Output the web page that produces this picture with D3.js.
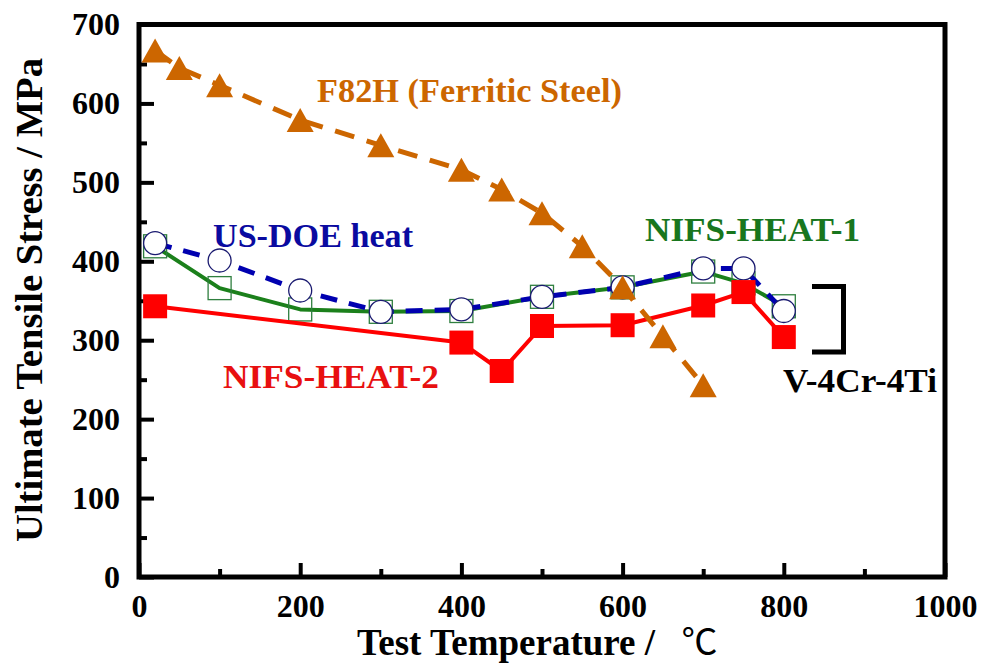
<!DOCTYPE html>
<html>
<head>
<meta charset="utf-8">
<script src="https://cdn.jsdelivr.net/npm/d3@7/dist/d3.min.js"></script>
<style>
  html, body { margin: 0; padding: 0; background: #fff; }
  svg { display: block; }
  text { font-family: "Liberation Serif", "DejaVu Serif", serif; }
</style>
</head>
<body>
<svg id="chart" width="985" height="664"></svg>
<script>
// ---------------- DATA ----------------
const f82hTemp   = [20, 50, 100, 200, 300, 400, 450, 500, 550, 600, 650, 700];
const f82hUTS    = [667, 645, 623, 579, 547, 516, 491, 461, 419, 367, 305, 243];

const usdoeTemp  = [20, 100, 200, 300, 400, 500, 600, 700, 750, 800];
const usdoeUTS   = [423, 401, 363, 336, 339, 355, 367, 391, 391, 337];

const heat1Temp  = [20, 100, 200, 300, 400, 500, 600, 700, 750, 800];
const heat1UTS   = [419, 366, 339, 336, 337, 355, 367, 387, 372, 343];

const heat2Temp  = [20, 400, 450, 500, 600, 700, 750, 800];
const heat2UTS   = [343, 297, 261, 318, 319, 344, 361, 304];

const xMajorTicks = [0, 200, 400, 600, 800, 1000];
const xMinorTicks = [100, 300, 500, 700, 900];
const yMajorTicks = [0, 100, 200, 300, 400, 500, 600, 700];
const yMinorTicks = [50, 150, 250, 350, 450, 550, 650];

const xTitle = "Test Temperature /  ";
const xUnit = "\u2103";
const yTitle = "Ultimate Tensile Stress / MPa";

// ---------------- SETUP ----------------
const svg = d3.select("#chart");
const L = 139, R = 945, T = 24.5, B = 577;
const x = d3.scaleLinear().domain([0, 1000]).range([L, R]);
const y = d3.scaleLinear().domain([0, 700]).range([B, T]);

const serif = "Liberation Serif, DejaVu Serif, serif";
const C_OR = "#cc6600", C_BL = "#0000b0", C_GR = "#1b801b", C_RD = "#ff0000";

// ---------------- AXES ----------------
function styleAxis(g) {
  g.attr("font-family", null).attr("font-size", null);
  g.select(".domain").remove();
  g.selectAll(".tick line").attr("stroke", "#000").attr("stroke-width", 4);
  g.selectAll(".tick text")
    .style("font-family", serif).attr("font-weight", "bold")
    .attr("font-size", 32).attr("fill", "#000");
}
svg.append("g").attr("transform", `translate(${L},0)`)
  .call(d3.axisLeft(y).tickValues(yMajorTicks).tickSize(-15).tickPadding(19).tickFormat(d3.format("d")))
  .call(styleAxis);
svg.append("g").attr("transform", `translate(${L},0)`)
  .call(d3.axisLeft(y).tickValues(yMinorTicks).tickSize(-8).tickFormat(""))
  .call(styleAxis);
svg.append("g").attr("transform", `translate(0,${B})`)
  .call(d3.axisBottom(x).tickValues(xMajorTicks).tickSize(-14).tickPadding(17).tickFormat(d3.format("d")))
  .call(styleAxis);
svg.append("g").attr("transform", `translate(0,${B})`)
  .call(d3.axisBottom(x).tickValues(xMinorTicks).tickSize(-8).tickFormat(""))
  .call(styleAxis);

// frame
svg.append("rect")
  .attr("x", x(0)).attr("y", y(700))
  .attr("width", x(1000) - x(0)).attr("height", y(0) - y(700))
  .attr("fill", "none").attr("stroke", "#000").attr("stroke-width", 5);

// axis titles
svg.append("text")
  .attr("transform", `translate(42,300) rotate(-90)`)
  .attr("text-anchor", "middle")
  .style("font-family", serif).attr("font-weight", "bold").attr("font-size", 38)
  .attr("textLength", 484).attr("lengthAdjust", "spacingAndGlyphs")
  .text(yTitle);

const xt = svg.append("text")
  .attr("x", 357).attr("y", 655)
  .style("font-family", serif).attr("font-weight", "bold").attr("font-size", 37)
  .style("white-space", "pre");
xt.append("tspan").text(xTitle);
xt.append("tspan").attr("dx", 8)
  .style("font-family", "'Noto Sans CJK JP', 'DejaVu Sans', sans-serif")
  .attr("font-weight", "normal").attr("font-size", 36).text(xUnit);

// ---------------- SERIES ----------------
const line = d3.line().x(d => x(d[0])).y(d => y(d[1]));
const zip = (a, b) => a.map((v, i) => [v, b[i]]);

const heat1 = zip(heat1Temp, heat1UTS);
const usdoe = zip(usdoeTemp, usdoeUTS);
const heat2 = zip(heat2Temp, heat2UTS);
const f82h  = zip(f82hTemp, f82hUTS);

// NIFS-HEAT-1 (green solid, open squares)
svg.append("path").datum(heat1).attr("d", line)
  .attr("fill", "none").attr("stroke", C_GR).attr("stroke-width", 4).attr("stroke-linejoin", "round");
const sq1 = 23;
svg.append("g").selectAll("rect").data(heat1).join("rect")
  .attr("x", d => x(d[0]) - sq1 / 2).attr("y", d => y(d[1]) - sq1 / 2)
  .attr("width", sq1).attr("height", sq1)
  .attr("fill", "none").attr("stroke", "#2f7f3f").attr("stroke-width", 1.3);

// US-DOE heat (blue dashed, open circles)
svg.append("path").datum(usdoe).attr("d", line)
  .attr("fill", "none").attr("stroke", C_BL).attr("stroke-width", 5)
  .attr("stroke-dasharray", "17,12");
svg.append("g").selectAll("circle").data(usdoe).join("circle")
  .attr("cx", d => x(d[0])).attr("cy", d => y(d[1])).attr("r", 11.5)
  .attr("fill", "#fff").attr("stroke", "#1a1a70").attr("stroke-width", 1.3);

// NIFS-HEAT-2 (red solid, filled squares)
svg.append("path").datum(heat2).attr("d", line)
  .attr("fill", "none").attr("stroke", C_RD).attr("stroke-width", 4).attr("stroke-linejoin", "round");
const sq2 = 24;
svg.append("g").selectAll("rect").data(heat2).join("rect")
  .attr("x", d => x(d[0]) - sq2 / 2).attr("y", d => y(d[1]) - sq2 / 2)
  .attr("width", sq2).attr("height", sq2).attr("fill", C_RD);

// F82H (orange dashed, filled triangles)
svg.append("path").datum(f82h).attr("d", line)
  .attr("fill", "none").attr("stroke", C_OR).attr("stroke-width", 5)
  .attr("stroke-dasharray", "20,13");
const tw = 27, th = 24;
svg.append("g").selectAll("path").data(f82h).join("path")
  .attr("d", d => {
    const cx = x(d[0]), cy = y(d[1]);
    return `M${cx},${cy - th / 2}L${cx + tw / 2},${cy + th / 2}L${cx - tw / 2},${cy + th / 2}Z`;
  })
  .attr("fill", C_OR);

// ---------------- ANNOTATIONS ----------------
function label(txt, x0, base, width, color) {
  svg.append("text").attr("x", x0).attr("y", base)
    .style("font-family", serif).attr("font-weight", "bold").attr("font-size", 34)
    .attr("fill", color).attr("textLength", width).attr("lengthAdjust", "spacingAndGlyphs")
    .text(txt);
}
label("F82H (Ferritic Steel)", 317, 102, 305, C_OR);
label("US-DOE heat", 213, 247, 200, "#0a0aa0");
label("NIFS-HEAT-1", 645, 241, 215, "#18761e");
label("NIFS-HEAT-2", 223, 388, 216, "#e81010");
label("V-4Cr-4Ti", 783, 392, 154, "#000");

// bracket
svg.append("path")
  .attr("d", `M812,286.5H843.5V352H812`)
  .attr("fill", "none").attr("stroke", "#000").attr("stroke-width", 5);
</script>
</body>
</html>
